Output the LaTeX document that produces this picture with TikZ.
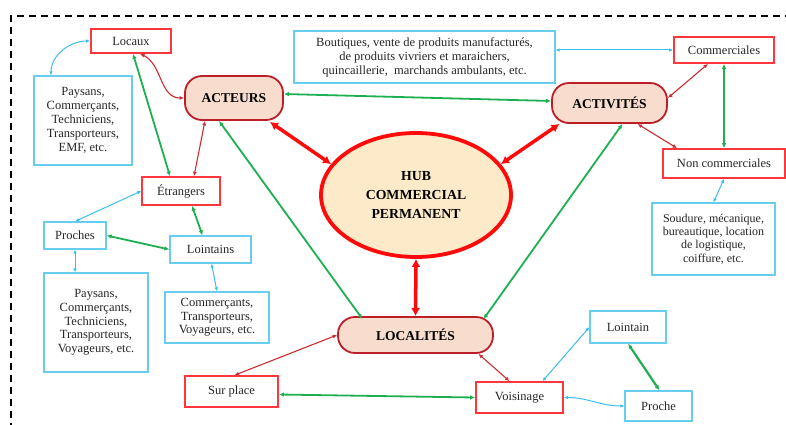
\documentclass[tikz,border=0pt]{standalone}
\usepackage{fontspec}
\setmainfont{Liberation Serif}
\usetikzlibrary{arrows.meta,shapes.geometric}
\definecolor{boxred}{RGB}{255,55,60}
\definecolor{pillred}{RGB}{190,30,40}
\definecolor{pillfill}{RGB}{248,220,205}
\definecolor{hubred}{RGB}{255,10,10}
\definecolor{hubfill}{RGB}{252,234,200}
\definecolor{lgreen}{RGB}{30,176,80}
\definecolor{lblue}{RGB}{60,190,240}
\definecolor{bboxc}{RGB}{105,205,240}
\definecolor{lred}{RGB}{205,45,50}
\tikzset{
  txt/.style={font=\fontsize{12.5}{14}\selectfont, align=center, inner sep=0pt, text=black!85},
  redbox/.style={txt, draw=boxred, line width=1.6pt, fill=white},
  bluebox/.style={txt, draw=bboxc, line width=1.2pt, fill=white},
  pill/.style={font=\fontsize{13.5}{15}\selectfont\bfseries, align=center, inner sep=0pt,
     draw=pillred, line width=1.8pt, fill=pillfill, rounded corners=17pt},
  hubstyle/.style={ellipse, draw=hubred, line width=3.8pt, fill=hubfill, inner sep=0pt,
     font=\fontsize{13.8}{18.7}\selectfont\bfseries, align=center},
  rthin/.style={draw=lred, line width=1.1pt, {Latex[length=4.5pt,width=4pt]}-{Latex[length=4.5pt,width=4pt]}},
  bline/.style={draw=lblue, line width=1pt, {Latex[length=4pt,width=3.5pt]}-{Latex[length=4pt,width=3.5pt]}},
  gline/.style={draw=lgreen, line width=1.8pt, {Latex[length=5pt,width=4.5pt]}-{Latex[length=5pt,width=4.5pt]}},
  rthick/.style={draw=hubred, line width=3.5pt, {Latex[length=8pt,width=9pt]}-{Latex[length=8pt,width=9pt]}},
  frame/.style={draw=black, line width=2.6pt, dash pattern=on 7pt off 5pt}
}
\begin{document}
\begin{tikzpicture}[x=1pt,y=-1pt]
\useasboundingbox (0,0) rectangle (786,425);
\fill[white] (0,0) rectangle (786,425);
% dashed frame
\coordinate (fr1) at (11,16);
\coordinate (fr2) at (790,16);
\coordinate (fr3) at (11,430);
\draw[frame] (fr3) -- (fr1) -- (fr2);

% nodes
\node[redbox, minimum width=80pt, minimum height=24pt] (locaux) at (131,41) {Locaux};
\node[bluebox, minimum width=98pt, minimum height=89pt] (pays1) at (83,120.5)
  {Paysans,\\Commerçants,\\Techniciens,\\Transporteurs,\\EMF, etc.};
\node[pill, minimum width=98pt, minimum height=44pt] (acteurs) at (234,98) {ACTEURS};
\node[bluebox, minimum width=261pt, minimum height=52pt] (bout) at (424.5,57)
  {Boutiques, vente de produits manufacturés,\\de produits vivriers et maraichers,\\quincaillerie,\ \ marchands ambulants, etc.};
\node[redbox, minimum width=100pt, minimum height=26pt] (comm) at (724,50) {Commerciales};
\node[pill, minimum width=115pt, minimum height=40pt] (activ) at (609.5,103) {ACTIVITÉS};
\node[redbox, minimum width=122pt, minimum height=29pt] (noncomm) at (724,163.5) {Non commerciales};
\node[bluebox, minimum width=123pt, minimum height=72pt, font=\fontsize{12}{13.3}\selectfont] (soud) at (713.5,239)
  {Soudure, mécanique,\\bureautique, location\\de logistique,\\coiffure, etc.};
\node[hubstyle, minimum width=190pt, minimum height=124pt] (hub) at (416,195)
  {HUB\\COMMERCIAL\\PERMANENT};
\node[redbox, minimum width=78pt, minimum height=28pt] (etr) at (181,191) {Étrangers};
\node[bluebox, minimum width=62pt, minimum height=27pt] (proches) at (75,235.5) {Proches};
\node[bluebox, minimum width=81pt, minimum height=27pt] (loint) at (210.5,249.5) {Lointains};
\node[bluebox, minimum width=104pt, minimum height=99pt, font=\fontsize{12.5}{13.7}\selectfont] (pays2) at (96,322.5)
  {Paysans,\\Commerçants,\\Techniciens,\\Transporteurs,\\Voyageurs, etc.};
\node[bluebox, minimum width=104pt, minimum height=51pt, font=\fontsize{12.5}{13.3}\selectfont] (commbox) at (217,317.5)
  {Commerçants,\\Transporteurs,\\Voyageurs, etc.};
\node[pill, minimum width=155pt, minimum height=36pt] (loc) at (415.5,335) {LOCALITÉS};
\node[redbox, minimum width=93pt, minimum height=31pt] (surpl) at (231.5,391.5) {Sur place};
\node[redbox, minimum width=87pt, minimum height=31pt] (vois) at (519.5,397.5) {Voisinage};
\node[bluebox, minimum width=76pt, minimum height=32pt] (loint2) at (628,327) {Lointain};
\node[bluebox, minimum width=67pt, minimum height=30pt] (proche) at (658.5,406) {Proche};

% connectors
\draw[bline] (locaux.west) to[out=180,in=90] ([xshift=-32pt]pays1.north);
\draw[rthin] ([xshift=9pt]locaux.south) to[out=-25,in=180] (acteurs.west);
\draw[gline] ([xshift=2pt]locaux.south) -- ([xshift=-11pt]etr.north);
\draw[rthin] ([xshift=-29pt]acteurs.south) -- ([xshift=13pt]etr.north);
\draw[gline] ([xshift=-15pt]acteurs.south) -- ([xshift=-53pt,yshift=-3pt]loc.north);
\draw[rthick] ([xshift=-14pt,yshift=-1pt]acteurs.south east) -- (hub.160);
\draw[gline] ([yshift=4pt]acteurs.east) -- ([yshift=2pt]activ.west);
\draw[bline] ([yshift=7pt]bout.east) -- (comm.west);
\draw[rthin] ([yshift=5pt]activ.east) -- ([xshift=-16pt]comm.south);
\draw[rthin] ([xshift=28pt]activ.south) -- ([xshift=-47pt]noncomm.north);
\draw[gline] (comm.south) -- (noncomm.north);
\draw[bline] (noncomm.south) -- (soud.north);
\draw[rthick] ([xshift=-50pt]activ.south) -- (hub.20);
\draw[gline] ([xshift=13pt]activ.south) -- ([xshift=68pt,yshift=-3pt]loc.north);
\draw[rthick] (hub.south) -- (loc.north);
\draw[bline] (etr.west) -- (proches.north);
\draw[gline] ([xshift=11pt]etr.south) -- ([xshift=-8pt]loint.north);
\draw[gline] (proches.east) -- (loint.west);
\draw[bline] (proches.south) -- ([xshift=-21pt]pays2.north);
\draw[bline] ([xshift=1pt]loint.south) -- (commbox.north);
\draw[rthin] (loc.west) -- ([xshift=3pt]surpl.north);
\draw[rthin] ([xshift=63pt]loc.south) -- ([xshift=-10pt]vois.north);
\draw[gline] ([yshift=-3pt]surpl.east) -- (vois.west);
\draw[bline] ([xshift=23pt]vois.north) -- (loint2.west);
\draw[gline, line width=2.2pt] (loint2.south) -- ([xshift=1pt]proche.north);
\draw[bline] (vois.east) to[out=0,in=180] (proche.west);
\end{tikzpicture}
\end{document}
